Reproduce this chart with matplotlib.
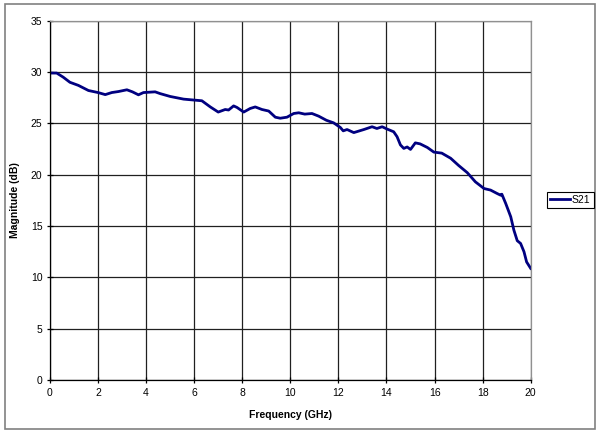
import numpy as np
import matplotlib
matplotlib.use('Agg')
import matplotlib.pyplot as plt
from matplotlib.patches import Rectangle

freq_ghz = [0.0, 0.28, 0.55, 0.83, 1.18, 1.6, 2.0, 2.3, 2.57, 2.85, 3.2, 3.43,
            3.68, 3.89, 4.375, 4.58, 5.0, 5.56, 6.32, 6.67, 7.0, 7.29, 7.43,
            7.64, 7.78, 8.06, 8.33, 8.54, 8.82, 9.1, 9.375, 9.58, 9.86, 10.14,
            10.35, 10.6, 10.9, 11.18, 11.5, 11.8, 12.08, 12.2, 12.36, 12.64,
            13.06, 13.4, 13.6, 13.82, 14.03, 14.3, 14.44, 14.58, 14.72, 14.86,
            15.0, 15.2, 15.4, 15.7, 15.97, 16.3, 16.67, 17.0, 17.36, 17.7,
            18.06, 18.33, 18.6, 18.75, 18.8, 18.96, 19.17, 19.3, 19.44, 19.58,
            19.72, 19.83, 20.0]
s21_db = [29.9, 29.9, 29.5, 29.0, 28.7, 28.2, 28.0, 27.8, 28.0, 28.1, 28.27,
          28.07, 27.78, 28.0, 28.07, 27.9, 27.62, 27.36, 27.2, 26.6, 26.1,
          26.35, 26.3, 26.7, 26.55, 26.1, 26.45, 26.6, 26.35, 26.2, 25.6, 25.5,
          25.6, 25.96, 26.03, 25.9, 25.96, 25.7, 25.3, 25.05, 24.6, 24.27,
          24.4, 24.1, 24.4, 24.67, 24.5, 24.67, 24.44, 24.18, 23.7, 22.9,
          22.56, 22.7, 22.46, 23.1, 23.0, 22.65, 22.2, 22.1, 21.6, 20.9, 20.2,
          19.3, 18.65, 18.5, 18.17, 18.0, 18.1, 17.2, 15.9, 14.6, 13.57, 13.3,
          12.5, 11.5, 10.87]

x_ticks = list(range(0, 21, 2))
y_ticks = list(range(0, 36, 5))

plt.rcParams['font.family'] = ['Liberation Sans', 'DejaVu Sans']

fig = plt.figure(figsize=(6, 4.33), dpi=100)
ax = fig.add_axes([0.0833, 0.1224, 0.8012, 0.8298])

ax.plot(freq_ghz, s21_db, color='#000080', linewidth=2.0, label='S21')

ax.set_xlim(0, 20)
ax.set_ylim(0, 35)
ax.set_xticks(x_ticks)
ax.set_yticks(y_ticks)
ax.grid(True, color='#202020', linewidth=0.9)
ax.set_axisbelow(True)
ax.tick_params(direction='inout', length=5, width=0.9, labelsize=7.5, pad=3)

for side in ['left', 'bottom']:
    ax.spines[side].set_color('black')
    ax.spines[side].set_linewidth(0.9)
for side in ['top', 'right']:
    ax.spines[side].set_color('#909090')
    ax.spines[side].set_linewidth(0.9)

ax.set_xlabel('Frequency (GHz)', fontsize=7.5, fontweight='bold')
ax.set_ylabel('Magnitude (dB)', fontsize=7.5, fontweight='bold')
ax.xaxis.set_label_coords(0.5, -0.083)
ax.yaxis.set_label_coords(-0.062, 0.5)

leg = fig.legend(loc='center left', bbox_to_anchor=(547 / 600, 1 - 200 / 433),
                 fontsize=7.5, fancybox=False, framealpha=1, edgecolor='black',
                 handlelength=1.9, handletextpad=0.2, borderpad=0.3,
                 borderaxespad=0)
leg.get_frame().set_linewidth(0.8)

# outer chart frame
fig.patches.append(Rectangle((5 / 600, 1 - 429 / 433), 590 / 600, 425 / 433,
                             transform=fig.transFigure, fill=False,
                             edgecolor='#808080', linewidth=1.2))

plt.savefig('out.png', dpi=100)
